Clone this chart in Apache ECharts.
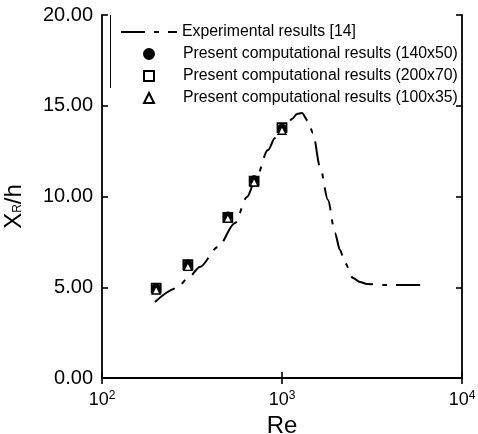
<!DOCTYPE html>
<html>
<head>
<meta charset="utf-8">
<script src="https://cdn.jsdelivr.net/npm/echarts@6/dist/echarts.min.js"></script>
<style>
html,body{margin:0;padding:0;background:#fff;}
#chart{width:478px;height:434px;}
</style>
</head>
<body>
<div id="chart"></div>
<script>
// ---- data ----
const reValues = [200, 300, 500, 700, 1000];
const res140x50 = [4.95, 6.25, 8.9, 10.9, 13.75];
const res200x70 = [4.95, 6.25, 8.85, 10.85, 13.8];
const res100x35 = [4.85, 6.15, 8.8, 10.8, 13.65];

const expRe = [197, 261, 301, 350, 441, 548, 639, 708, 836, 914, 1039, 1136, 1211, 1291, 1394, 1486, 1626, 1801, 1968, 2100, 2238, 2479, 2713, 2965, 3830, 6230];
const expXR = [4.19, 4.96, 5.51, 6.12, 7.22, 8.54, 9.97, 10.85, 12.56, 13.22, 13.72, 14.27, 14.55, 14.6, 14.16, 13.5, 11.63, 9.81, 7.99, 7.05, 6.34, 5.51, 5.29, 5.18, 5.12, 5.12];

const seriesNames = [
  'Experimental results [14]',
  'Present computational results (140x50)',
  'Present computational results (200x70)',
  'Present computational results (100x35)'
];
const xTickExponents = {100: '2', 1000: '3', 10000: '4'};

const FONT = 'Liberation Sans, Arial, Helvetica, sans-serif';
const zip = (a, b) => a.map((v, i) => [v, b[i]]);

const chart = echarts.init(document.getElementById('chart'), null, {renderer: 'canvas'});
const axisLine = {show: true, lineStyle: {color: '#000', width: 1.8}};
const tickIn = {show: true, inside: true, length: 6, lineStyle: {color: '#000', width: 1.6}};
const legendText = {fontFamily: FONT, fontSize: 15.8, color: '#000', lineHeight: 16};

chart.setOption({
  animation: false,
  backgroundColor: '#fff',
  grid: {left: 102, top: 15, right: 16, bottom: 56, containLabel: false, outerBoundsMode: 'none'},
  xAxis: [{
    type: 'log', logBase: 10, min: 100, max: 10000, position: 'bottom',
    axisLine: axisLine, axisTick: tickIn, splitLine: {show: false},
    name: 'Re', nameLocation: 'middle', nameGap: 35,
    nameTextStyle: {fontFamily: FONT, fontSize: 24, color: '#000'},
    axisLabel: {
      margin: 12,
      formatter: v => '{b|10}{s|' + (xTickExponents[Math.round(v)] || '') + '}',
      rich: {
        b: {fontFamily: FONT, fontSize: 18, lineHeight: 20, color: '#000'},
        s: {fontFamily: FONT, fontSize: 12, lineHeight: 12, color: '#000', verticalAlign: 'top'}
      }
    }
  }, {
    type: 'log', logBase: 10, min: 100, max: 10000, position: 'top',
    axisLine: axisLine, axisTick: tickIn, axisLabel: {show: false}, splitLine: {show: false}
  }],
  yAxis: [{
    type: 'value', min: 0, max: 20, interval: 5, position: 'left',
    axisLine: axisLine, axisTick: tickIn, splitLine: {show: false},
    name: '{a|X}{b|R}{a|/h}', nameLocation: 'middle', nameGap: 75, nameRotate: 90,
    nameTextStyle: {
      padding: [0, 20, 0, 0],
      rich: {
        a: {fontFamily: FONT, fontSize: 24, lineHeight: 26, color: '#000'},
        b: {fontFamily: FONT, fontSize: 12, lineHeight: 12, color: '#000', verticalAlign: 'bottom', padding: [0, 0, 3, 0]}
      }
    },
    axisLabel: {margin: 9, fontFamily: FONT, fontSize: 20, color: '#000', formatter: v => v.toFixed(2)}
  }, {
    type: 'value', min: 0, max: 20, interval: 5, position: 'right',
    axisLine: axisLine, axisTick: tickIn, axisLabel: {show: false}, splitLine: {show: false}
  }],
  legend: [{
    orient: 'vertical', left: 120, top: 24, padding: 0,
    itemWidth: 56, itemHeight: 10, itemGap: 6,
    textStyle: legendText,
    data: [
      {name: seriesNames[0], itemStyle: {color: 'rgba(0,0,0,0)', borderColor: 'rgba(0,0,0,0)', borderWidth: 0, opacity: 0}}
    ]
  }, {
    orient: 'vertical', left: 143, top: 46, padding: 0,
    itemWidth: 10, itemHeight: 10, itemGap: 6,
    textStyle: Object.assign({padding: [0, 0, 0, 24]}, legendText),
    data: [seriesNames[1], seriesNames[2], seriesNames[3]]
  }],
  graphic: [{
    type: 'line', shape: {x1: 110.5, y1: 15, x2: 110.5, y2: 88},
    style: {stroke: '#000', lineWidth: 1}, silent: true
  }],
  series: [{
    name: seriesNames[0], type: 'line', data: zip(expRe, expXR),
    showSymbol: false, symbol: 'none', smooth: 0.3, smoothMonotone: 'x',
    lineStyle: {color: '#000', width: 2, type: [24, 9, 5, 9]},
    itemStyle: {color: '#000'}, z: 1
  }, {
    name: seriesNames[1], type: 'scatter', data: zip(reValues, res140x50),
    symbol: 'circle', symbolSize: 9,
    itemStyle: {color: '#000', borderColor: '#000', borderWidth: 1, opacity: 1}, z: 3
  }, {
    name: seriesNames[2], type: 'scatter', data: zip(reValues, res200x70),
    symbol: 'rect', symbolSize: 9,
    itemStyle: {color: '#fff', borderColor: '#000', borderWidth: 1.8, opacity: 1}, z: 2
  }, {
    name: seriesNames[3], type: 'scatter', data: zip(reValues, res100x35),
    symbol: 'triangle', symbolSize: 8,
    itemStyle: {color: '#fff', borderColor: '#000', borderWidth: 1.4, opacity: 1}, z: 4
  }]
});
</script>
</body>
</html>
